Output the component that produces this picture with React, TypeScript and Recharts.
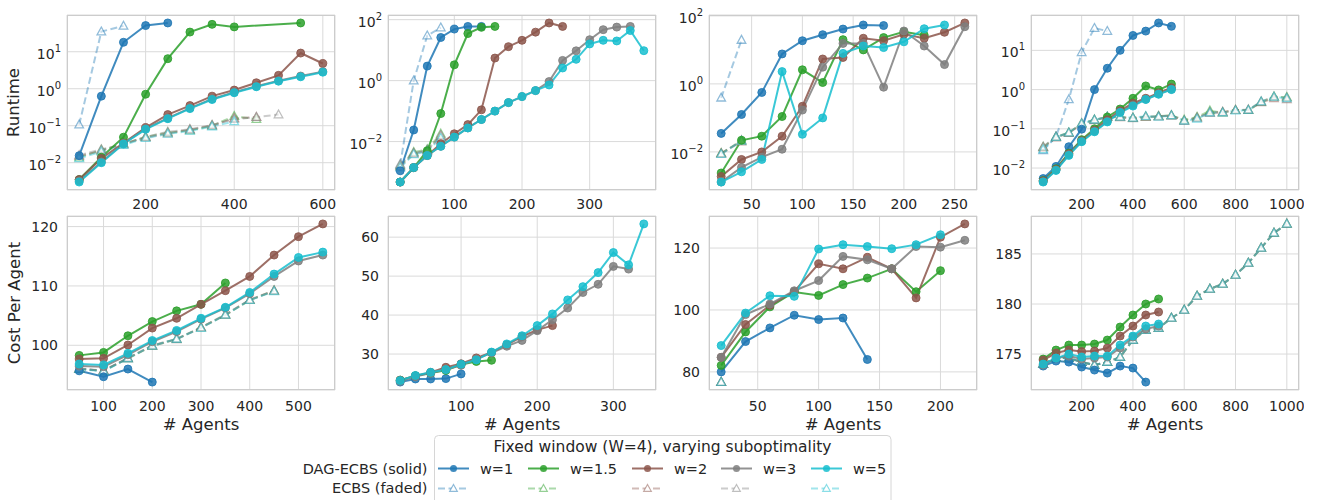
import { CartesianGrid, Line, LineChart, XAxis, YAxis } from "recharts";

type Vals = (number | null)[];

const FONT = '"DejaVu Sans", "Liberation Sans", sans-serif';
const INK = "#262626";
const GRID = "#dadada";
const W = 268;
const MT = 14; // room above the plot for superscript tick labels

const labels = ["w=1", "w=1.5", "w=2", "w=3", "w=5"];
const colors = ["#1f77b4", "#2ca02c", "#8c564b", "#7f7f7f", "#17becf"];

// agent counts on each map
const agents1 = [50, 100, 150, 200, 250, 300, 350, 400, 450, 500, 550, 600];
const agents2 = [20, 40, 60, 80, 100, 120, 140, 160, 180, 200, 220, 240, 260, 280, 300, 320, 340, 360, 380];
const agents3 = [20, 40, 60, 80, 100, 120, 140, 160, 180, 200, 220, 240, 260];
const agents4 = [50, 100, 150, 200, 250, 300, 350, 400, 450, 500, 550, 600, 650, 700, 750, 800, 850, 900, 950, 1000];

// runtime (s), DAG-ECBS solid / ECBS faded, rows = w=1, 1.5, 2, 3, 5
const rt1Dag: Vals[] = [
  [0.0155, 0.63, 18, 51, 60],
  [0.0035, 0.014, 0.049, 0.71, 6.5, 34, 55, 47, null, null, 60],
  [0.0035, 0.013, 0.034, 0.089, 0.2, 0.35, 0.63, 0.92, 1.45, 2.3, 9.2, 4.8],
  [0.0032, 0.0105, 0.033, 0.083, 0.16, 0.3, 0.53, 0.8, 1.17, 1.65, 2.2, 2.9],
  [0.003, 0.01, 0.032, 0.08, 0.155, 0.29, 0.51, 0.78, 1.13, 1.6, 2.1, 2.8],
];
const rt1Ecbs: Vals[] = [
  [0.107, 35, 50],
  [0.014, 0.022, 0.032, 0.05, 0.065, 0.075, 0.1, 0.18, 0.15],
  [0.015, 0.021, 0.033, 0.048, 0.062, 0.078, 0.1, 0.16, 0.17],
  [0.016, 0.023, 0.031, 0.05, 0.068, 0.08, 0.105, 0.15, 0.17, 0.2],
  [0.013, 0.02, 0.03, 0.046, 0.06, 0.072, 0.095, 0.13],
];

const rt2Dag: Vals[] = [
  [0.0011, 0.024, 3.0, 26, 49, 60, 60],
  [0.00047, 0.0014, 0.005, 0.083, 3.3, 35, 56, 60],
  [0.00047, 0.0014, 0.0035, 0.0085, 0.018, 0.036, 0.11, 5.5, 13, 21, 39, 78, 60],
  [0.00047, 0.0014, 0.0035, 0.007, 0.014, 0.028, 0.053, 0.1, 0.19, 0.3, 0.47, 0.93, 4.6, 9.5, 22, 47, 57, 60],
  [0.00047, 0.0014, 0.0035, 0.007, 0.014, 0.028, 0.053, 0.1, 0.19, 0.3, 0.47, 0.72, 2.6, 5.0, 16, 21, 20, 44, 9.6],
];
const rt2Ecbs: Vals[] = [
  [0.0017, 1.0, 30, 55],
  [0.0016, 0.0045, 0.0055, 0.018],
  [0.0015, 0.004, 0.005, 0.015],
  [0.0018, 0.0042, 0.0052, 0.016],
  [0.0014, 0.0038, 0.0048, 0.013],
];

const rt3Dag: Vals[] = [
  [0.035, 0.126, 0.56, 7.6, 18.6, 28, 41, 54, 52],
  [0.0024, 0.022, 0.029, 0.11, 2.6, 1.1, 20, 10, 23, 34, 27],
  [0.0019, 0.006, 0.01, 0.029, 0.22, 5.4, 6.0, 22, 18.6, 29, 22, 33, 62],
  [0.0013, 0.0035, 0.007, 0.012, 0.17, 3.1, 15.5, 15.5, 0.8, 36, 13, 3.7, 48],
  [0.0013, 0.0026, 0.006, 2.3, 0.033, 0.1, 7.9, 13, 11.7, 17.3, 42, 54],
];
const rt3Ecbs: Vals[] = [
  [0.39, 19.5],
  [0.0092, 0.021],
  [0.009, 0.02],
  [0.0088, 0.022],
  [0.0086, 0.021],
];

const rt4Dag: Vals[] = [
  [0.0054, 0.011, 0.035, 0.098, 1.0, 3.5, 10, 24, 31, 50, 41],
  [0.0048, 0.0096, 0.024, 0.053, 0.1, 0.2, 0.32, 0.6, 1.24, 0.98, 1.38],
  [0.0047, 0.0092, 0.023, 0.05, 0.092, 0.17, 0.29, 0.45, 0.6, 0.82, 1.12],
  [0.0045, 0.0089, 0.022, 0.048, 0.087, 0.155, 0.27, 0.4, 0.57, 0.78, 1.02],
  [0.0044, 0.0087, 0.021, 0.047, 0.084, 0.15, 0.26, 0.38, 0.56, 0.76, 1.0],
];
const rt4Ecbs: Vals[] = [
  [0.028, 0.063, 0.56, 8.9, 37, 31],
  [0.034, 0.062, 0.08, 0.135, 0.17, 0.2, 0.2, 0.19, 0.2, 0.21, 0.22, 0.17, 0.2, 0.29, 0.26, 0.3, 0.3, 0.48, 0.66, 0.64],
  [0.033, 0.06, 0.078, 0.13, 0.165, 0.2, 0.195, 0.19, 0.2, 0.205, 0.22, 0.16, 0.19, 0.26, 0.27, 0.3, 0.3, 0.47, 0.6, 0.56],
  [0.035, 0.063, 0.079, 0.14, 0.17, 0.2, 0.2, 0.185, 0.2, 0.21, 0.215, 0.16, 0.19, 0.25, 0.26, 0.3, 0.31, 0.5, 0.66, 0.62],
  [0.03, 0.061, 0.08, 0.135, 0.17, 0.2, 0.2, 0.19, 0.21, 0.2, 0.22, 0.16, 0.18, 0.26, 0.26, 0.29, 0.3, 0.49, 0.65, 0.6],
];

// cost per agent
const cost1Dag: Vals[] = [
  [95.7, 94.7, 96.0, 93.8],
  [98.3, 98.8, 101.6, 104.0, 105.8, 106.9, 110.5],
  [97.7, 97.8, 100.05, 102.9, 104.55, 106.9, 109.2, 111.6, 115.2, 118.3, 120.45],
  [96.5, 96.4, 98.4, 100.6, 102.3, 104.4, 106.3, 108.7, 111.6, 114.2, 115.2],
  [96.85, 96.7, 98.65, 100.8, 102.5, 104.55, 106.4, 108.9, 112.0, 114.8, 115.7],
];
const cost1Ecbs: Vals[] = [
  [96.0, 95.7, 97.8],
  [96.0, 95.7, 97.8, 99.9, 101.05, 103.0, 105.1, 107.6, 109.2],
  [96.0, 95.8, 97.8, 99.9, 101.0, 103.0, 105.1, 107.7, 109.2],
  [96.1, 95.7, 97.9, 100.0, 101.1, 103.0, 105.2, 107.6, 109.2],
  [96.0, 95.6, 97.8, 99.9, 101.05, 102.9, 105.1, 107.6, 109.1],
];

const cost2Dag: Vals[] = [
  [22.8, 23.6, 23.6, 23.7, 24.9],
  [23.3, 24.4, 25.1, 25.8, 27.3, 28.1, 28.4],
  [23.3, 24.4, 25.3, 26.6, 27.5, 29.0, 30.4, 32.4, 34.5, 36.2, 37.3],
  [23.0, 24.2, 25.1, 26.0, 27.1, 28.7, 30.3, 32.0, 33.5, 36.0, 38.8, 41.8, 45.8, 47.9, 52.5, 51.8],
  [23.2, 24.5, 25.3, 26.0, 27.4, 28.5, 30.5, 32.6, 34.7, 37.3, 40.3, 43.9, 47.3, 50.9, 56.05, 52.9, 63.4],
];
const cost2Ecbs: Vals[] = [[], [], [], [], []];

const cost3Dag: Vals[] = [
  [80.0, 89.8, 94.2, 98.3, 96.9, 97.4, 84.0],
  [82.1, 92.9, 101.0, 105.8, 104.7, 108.2, 110.3, 113.3, 105.9, 112.7],
  [84.7, 95.3, 101.5, 106.0, 114.9, 113.3, 117.0, 113.3, 103.9, 123.5, 127.8],
  [84.7, 98.5, 101.9, 106.2, 109.5, 117.3, 116.2, 113.3, 120.5, 120.3, 122.5],
  [88.5, 99.0, 104.6, 104.4, 119.7, 121.1, 120.5, 119.8, 121.1, 124.3],
];
const cost3Ecbs: Vals[] = [[76.7], [76.7], [76.7], [76.7], [76.7]];

const cost4Dag: Vals[] = [
  [173.8, 174.3, 174.2, 173.7, 173.4, 173.1, 173.8, 173.6, 172.2],
  [174.5, 175.4, 175.9, 175.9, 176.0, 176.4, 177.7, 178.9, 180.0, 180.5],
  [174.4, 175.1, 175.4, 175.25, 175.3, 175.6, 176.8, 177.8, 178.9, 179.2],
  [173.9, 174.6, 174.8, 174.5, 174.6, 174.7, 175.6, 176.7, 177.5, 177.8],
  [174.0, 174.6, 175.0, 174.7, 174.8, 174.8, 175.9, 176.8, 177.8, 178.0],
];
const cost4EcbsLong = [174.0, 174.6, 174.6, 174.2, 173.9, 174.2, 174.7, 176.4, 177.4, 177.6, 178.6, 179.4, 180.8, 181.5, 182.0, 182.9, 184.1, 185.6, 187.1, 188.0];
const cost4Ecbs: Vals[] = [
  [174.0, 174.6, 174.6, 174.2, 173.9, 174.2],
  cost4EcbsLong,
  cost4EcbsLong,
  cost4EcbsLong,
  cost4EcbsLong,
];

// tick values
const xt1Top = [200, 400, 600];
const xt1Bot = [100, 200, 300, 400, 500];
const xt2 = [100, 200, 300];
const xt3Top = [50, 100, 150, 200, 250];
const xt3Bot = [50, 100, 150, 200];
const xt4 = [200, 400, 600, 800, 1000];
const ytLog1 = [0.01, 0.1, 1, 10];
const ytLog2 = [0.01, 1, 100];
const yt1 = [100, 110, 120];
const yt2 = [30, 40, 50, 60];
const yt3 = [80, 100, 120];
const yt4 = [175, 180, 185];

type PanelDef = {
  left: number;
  top: number;
  height: number;
  xs: number[];
  dag: Vals[];
  ecbs: Vals[];
  log: boolean;
  xTicks: number[];
  yTicks: number[];
  xPad: number;
};

const TOP = 15;
const TOP_H = 175;
const BOT = 216;
const BOT_H = 174;
const lefts = [67, 388, 709, 1031];

const panels: PanelDef[] = [
  { left: lefts[0], top: TOP, height: TOP_H, xs: agents1, dag: rt1Dag, ecbs: rt1Ecbs, log: true, xTicks: xt1Top, yTicks: ytLog1, xPad: 9 },
  { left: lefts[1], top: TOP, height: TOP_H, xs: agents2, dag: rt2Dag, ecbs: rt2Ecbs, log: true, xTicks: xt2, yTicks: ytLog2, xPad: 9 },
  { left: lefts[2], top: TOP, height: TOP_H, xs: agents3, dag: rt3Dag, ecbs: rt3Ecbs, log: true, xTicks: xt3Top, yTicks: ytLog2, xPad: 9 },
  { left: lefts[3], top: TOP, height: TOP_H, xs: agents4, dag: rt4Dag, ecbs: rt4Ecbs, log: true, xTicks: xt4, yTicks: ytLog1, xPad: 9 },
  { left: lefts[0], top: BOT, height: BOT_H, xs: agents1, dag: cost1Dag, ecbs: cost1Ecbs, log: false, xTicks: xt1Bot, yTicks: yt1, xPad: 10.5 },
  { left: lefts[1], top: BOT, height: BOT_H, xs: agents2, dag: cost2Dag, ecbs: cost2Ecbs, log: false, xTicks: xt2, yTicks: yt2, xPad: 10.5 },
  { left: lefts[2], top: BOT, height: BOT_H, xs: agents3, dag: cost3Dag, ecbs: cost3Ecbs, log: false, xTicks: xt3Bot, yTicks: yt3, xPad: 10.5 },
  { left: lefts[3], top: BOT, height: BOT_H, xs: agents4, dag: cost4Dag, ecbs: cost4Ecbs, log: false, xTicks: xt4, yTicks: yt4, xPad: 10.5 },
];

const toPts = (xs: number[], vals: Vals) =>
  vals.map((y, i) => ({ x: xs[i], y })).filter((d) => d.y != null);

function XTick(props: any) {
  const { x, y, payload } = props;
  return (
    <text x={x} y={y} dy="0.72em" textAnchor="middle" fill={INK} fontSize={14} fontFamily={FONT}>
      {String(payload.value)}
    </text>
  );
}

function LinTick(props: any) {
  const { x, y, payload } = props;
  return (
    <text x={x} y={y} dy="0.36em" textAnchor="end" fill={INK} fontSize={14} fontFamily={FONT}>
      {String(payload.value)}
    </text>
  );
}

function LogTick(props: any) {
  const { x, y, payload } = props;
  const e = Math.round(Math.log10(payload.value));
  const sup = e < 0 ? `\u2212${-e}` : `${e}`;
  return (
    <text x={x} y={y} dy="0.5em" textAnchor="end" fill={INK} fontSize={14} fontFamily={FONT}>
      10
      <tspan dy={-7} fontSize={10}>
        {sup}
      </tspan>
    </text>
  );
}

const triDot = (c: string) => (props: any) => {
  const { cx, cy, index } = props;
  if (cx == null || cy == null) return <g key={`t${index}`} />;
  return (
    <path
      key={`t${index}`}
      d={`M${cx},${cy - 4.6}L${cx + 4.3},${cy + 3.2}L${cx - 4.3},${cy + 3.2}Z`}
      fill="#ffffff"
      fillOpacity={0.4}
      stroke={c}
      strokeOpacity={0.5}
      strokeWidth={1.3}
    />
  );
};

function Panel({ p }: { p: PanelDef }) {
  const series = [...p.dag, ...p.ecbs];
  const all = series.flat().filter((v): v is number => v != null);
  const lo = Math.min(...all);
  const hi = Math.max(...all);
  let yDomain: [number, number];
  if (p.log) {
    const a = Math.log10(lo);
    const b = Math.log10(hi);
    const m = (b - a) * 0.05;
    yDomain = [10 ** (a - m), 10 ** (b + m)];
  } else {
    const m = (hi - lo) * 0.05;
    yDomain = [lo - m, hi + m];
  }
  const usedX = p.xs.filter((_, i) => series.some((s) => s[i] != null));
  const xlo = Math.min(...usedX);
  const xhi = Math.max(...usedX);
  const xm = (xhi - xlo) * 0.05;

  return (
    <div style={{ position: "absolute", left: p.left - 60, top: p.top - MT }}>
      <LineChart
        width={60 + W + 5}
        height={MT + p.height + 30}
        margin={{ top: MT, right: 5, bottom: 0, left: 0 }}
      >
        <CartesianGrid stroke={GRID} strokeWidth={1} />
        <XAxis
          type="number"
          dataKey="x"
          domain={[xlo - xm, xhi + xm]}
          ticks={p.xTicks}
          interval={0}
          allowDataOverflow
          axisLine={false}
          tickLine={false}
          tickSize={0}
          tickMargin={p.xPad}
          height={30}
          tick={(t: any) => <XTick {...t} />}
        />
        <YAxis
          type="number"
          dataKey="y"
          scale={p.log ? "log" : "linear"}
          domain={yDomain}
          ticks={p.yTicks}
          interval={0}
          allowDataOverflow
          axisLine={false}
          tickLine={false}
          tickSize={0}
          tickMargin={p.log ? 6 : 9}
          width={60}
          tick={(t: any) => (p.log ? <LogTick {...t} /> : <LinTick {...t} />)}
        />
        {p.ecbs.map((vals, i) =>
          vals.length ? (
            <Line
              key={`e${i}`}
              data={toPts(p.xs, vals)}
              dataKey="y"
              stroke={colors[i]}
              strokeOpacity={0.4}
              strokeWidth={2}
              strokeDasharray="7 3.5"
              dot={triDot(colors[i])}
              activeDot={false}
              isAnimationActive={false}
            />
          ) : null
        )}
        {p.dag.map((vals, i) => (
          <Line
            key={`d${i}`}
            data={toPts(p.xs, vals)}
            dataKey="y"
            stroke={colors[i]}
            strokeOpacity={0.85}
            strokeWidth={2}
            dot={{ r: 4, fill: colors[i], fillOpacity: 0.85, stroke: colors[i], strokeOpacity: 0.85, strokeWidth: 1 }}
            activeDot={false}
            isAnimationActive={false}
          />
        ))}
      </LineChart>
      <div
        style={{
          position: "absolute",
          left: 60,
          top: MT,
          width: W,
          height: p.height,
          border: "1.25px solid #cccccc",
          boxSizing: "border-box",
          pointerEvents: "none",
        }}
      />
    </div>
  );
}

// legend layout
const handleX = [438, 528, 632, 721, 811];
const labelX = [480, 570, 674, 763, 853];
const ROW1 = 468.5;
const ROW2 = 488.5;

function Overlay() {
  return (
    <svg
      width={1317}
      height={500}
      style={{ position: "absolute", left: 0, top: 0, pointerEvents: "none" }}
      fontFamily={FONT}
    >
      <text x={19} y={102.5} transform="rotate(-90 19 102.5)" textAnchor="middle" fontSize={16.5} fill={INK}>
        Runtime
      </text>
      <text x={20} y={303} transform="rotate(-90 20 303)" textAnchor="middle" fontSize={16.5} fill={INK}>
        Cost Per Agent
      </text>
      {lefts.map((l) => (
        <text key={l} x={l + W / 2} y={430} textAnchor="middle" fontSize={16.5} fill={INK}>
          # Agents
        </text>
      ))}
      <rect x={434.5} y={435.5} width={456.5} height={80} rx={4} fill="#ffffff" fillOpacity={0.85} stroke="#d6d6d6" />
      <text x={662.5} y={451.5} textAnchor="middle" fontSize={15.5} fill={INK}>
        Fixed window (W=4), varying suboptimality
      </text>
      <text x={427.5} y={ROW1 + 5} textAnchor="end" fontSize={14.5} fill={INK}>
        DAG-ECBS (solid)
      </text>
      <text x={427.5} y={ROW2 + 4} textAnchor="end" fontSize={14.5} fill={INK}>
        ECBS (faded)
      </text>
      {labels.map((lab, i) => {
        const x0 = handleX[i];
        const cx = x0 + 15.5;
        return (
          <g key={lab}>
            <line x1={x0} x2={x0 + 31} y1={ROW1} y2={ROW1} stroke={colors[i]} strokeOpacity={0.85} strokeWidth={2} />
            <circle cx={cx} cy={ROW1} r={3.5} fill={colors[i]} fillOpacity={0.85} />
            <text x={labelX[i]} y={ROW1 + 5} fontSize={14.5} fill={INK}>
              {lab}
            </text>
            <line
              x1={x0}
              x2={x0 + 31}
              y1={ROW2}
              y2={ROW2}
              stroke={colors[i]}
              strokeOpacity={0.4}
              strokeWidth={2}
              strokeDasharray="7 3.5"
            />
            <path
              d={`M${cx},${ROW2 - 4}L${cx + 3.8},${ROW2 + 2.8}L${cx - 3.8},${ROW2 + 2.8}Z`}
              fill="#ffffff"
              stroke={colors[i]}
              strokeOpacity={0.5}
              strokeWidth={1.2}
            />
          </g>
        );
      })}
    </svg>
  );
}

export default function App() {
  return (
    <div style={{ position: "absolute", left: 0, top: 0, width: 1317, height: 500, background: "#ffffff", fontFamily: FONT }}>
      {panels.map((p, i) => (
        <Panel key={i} p={p} />
      ))}
      <Overlay />
    </div>
  );
}
